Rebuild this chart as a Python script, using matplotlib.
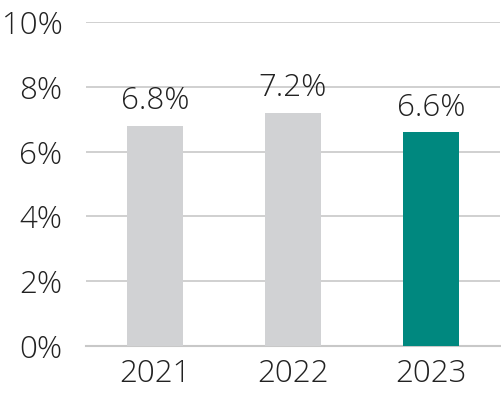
import matplotlib
matplotlib.use("Agg")
import matplotlib.pyplot as plt

years = ["2021", "2022", "2023"]
values = [6.8, 7.2, 6.6]
colors = ["#d1d2d4", "#d1d2d4", "#00887f"]
yticks = [0, 2, 4, 6, 8, 10]

plt.rcParams['font.family'] = ['Open Sans', 'DejaVu Sans']
plt.rcParams['font.weight'] = 'light'
text_color = "#222222"
fs = 22.5

fig = plt.figure(figsize=(5.01, 3.96), dpi=100)
ax = fig.add_axes([86/501, 50/396, 414/501, 324/396])
x = range(len(years))
bars = ax.bar(x, values, width=0.4, color=colors, zorder=3)
for b, v in zip(bars, values):
    ax.annotate(f"{v:.1f}%", (b.get_x() + b.get_width()/2, v), xytext=(0, 6),
                textcoords="offset points", ha="center", va="bottom",
                fontsize=fs, color=text_color, fontweight="light")
ax.set_xlim(-0.5, 2.5)
ax.set_ylim(0, 10)
ax.set_yticks(yticks)
ax.set_yticklabels([f"{t}%" for t in yticks], fontweight="light")
ax.set_xticks(list(x))
ax.set_xticklabels(years, fontweight="light")
ax.tick_params(axis="y", length=0, pad=17, labelsize=fs, labelcolor=text_color)
ax.tick_params(axis="x", length=0, pad=9, labelsize=fs, labelcolor=text_color)
ax.grid(axis="y", color="#c8c8c8", linewidth=1.2, zorder=0)
for s in ["top", "right", "left"]:
    ax.spines[s].set_visible(False)
ax.spines["bottom"].set_color("#c8c8c8")
ax.spines["bottom"].set_linewidth(1.5)
fig.savefig("out.png", dpi=100)
